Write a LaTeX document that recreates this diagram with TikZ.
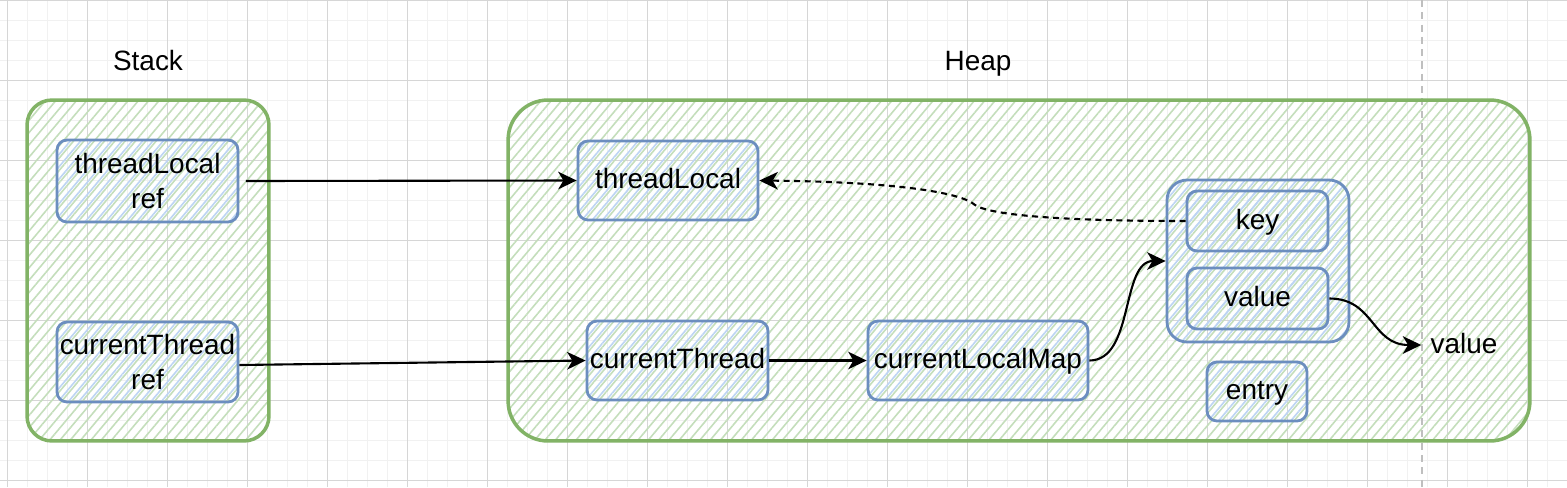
\documentclass[tikz,border=0pt]{standalone}
\usepackage{fontspec}
\setmainfont{Liberation Sans}
\usetikzlibrary{arrows.meta,patterns.meta}
\definecolor{gmaj}{HTML}{D6D6D6}
\definecolor{gmin}{HTML}{F1F1F1}
\definecolor{gstroke}{HTML}{82B366}
\definecolor{gfill}{HTML}{C4DEBB}
\definecolor{bstroke}{HTML}{6C8EBF}
\definecolor{bfill}{HTML}{BDD5F3}
\begin{document}
\begin{tikzpicture}[x=0.02cm,y=-0.02cm,
  txt/.style={font=\fontsize{15.9}{20}\selectfont, text=black, align=center},
  oneline/.style={text height=10.4pt, text depth=1pt},
  container/.style={draw=gstroke, line width=2pt, inner sep=0pt,
    pattern={Lines[angle=50,distance=4.5pt,line width=0.9pt]}, pattern color=gfill},
  box/.style={txt, draw=bstroke, line width=1.6pt, rounded corners=0.2cm, inner sep=0pt,
    pattern={Lines[angle=50,distance=4.5pt,yshift=2.2pt,line width=0.9pt]}, pattern color=bfill},
  conn/.style={line width=1.2pt, -{Stealth[length=10.5pt,width=10pt,inset=3pt]}},
]
\useasboundingbox (0,0) rectangle (1567,487);
\fill[white] (0,0) rectangle (1567,487);
% grid
\foreach \i in {0,...,78} { \draw[gmin, line width=0.8pt] ({7.3+20*\i},0) -- ++(0,487); }
\foreach \i in {0,...,24} { \draw[gmin, line width=0.8pt] (0,{0.7+20*\i}) -- ++(1567,0); }
\foreach \i in {0,...,19} { \draw[gmaj, line width=0.6pt] ({7.3+80*\i},0) -- ++(0,487); }
\foreach \i in {0,...,6} { \draw[gmaj, line width=0.6pt] (0,{0.7+80*\i}) -- ++(1567,0); }
% page break line
\draw[black!25, line width=1.1pt, dash pattern=on 4pt off 3pt] (1422,0) -- (1422,487);

% containers
\node[container, rounded corners=0.5cm, minimum width=4.84cm, minimum height=6.82cm] (stack) at (148,270.5) {};
\node[container, rounded corners=0.8cm, minimum width=20.44cm, minimum height=6.82cm] (heap) at (1019,270.5) {};
\node[txt, anchor=base] (stacklbl) at (148,70) {Stack};
\node[txt, anchor=base] (heaplbl) at (978,70) {Heap};

% stack boxes
\node[box, minimum width=3.62cm, minimum height=1.64cm] (tlref) at (147.5,181) {threadLocal\\ref};
\node[box, minimum width=3.62cm, minimum height=1.6cm] (ctref) at (147.5,362) {currentThread\\ref};

% heap boxes
\node[box, oneline, minimum width=3.6cm, minimum height=1.58cm] (tl) at (668,180.5) {threadLocal};
\node[box, oneline, minimum width=3.62cm, minimum height=1.58cm] (ct) at (677.5,360.5) {currentThread};
\node[box, oneline, minimum width=4.4cm, minimum height=1.58cm] (clm) at (978,360.5) {currentLocalMap};
\node[box, rounded corners=0.4cm, minimum width=3.64cm, minimum height=3.24cm] (pair) at (1258,261) {};
\node[box, oneline, minimum width=2.82cm, minimum height=1.2cm] (key) at (1257.5,221) {key};
\node[box, oneline, minimum width=2.82cm, minimum height=1.22cm] (val) at (1257.5,298.5) {value};
\node[box, oneline, minimum width=2.0cm, minimum height=1.18cm] (entry) at (1257,391.5) {entry};
\node[txt, oneline, inner xsep=0.18cm, inner ysep=0pt] (valtxt) at (1464,345) {value};

% connectors
\draw[conn] ([xshift=0.14cm]tlref.east) -- (tl.west);
\draw[conn] ([yshift=-0.06cm]ctref.east) -- (ct.west);
\draw[conn] (ct.east) -- (clm.west);
\draw[conn] (clm.east) .. controls +(45,0) and +(-45,0) .. (pair.west);
\draw[conn] (val.east) .. controls +(45,0) and +(-50,0) .. (valtxt.west);
\draw[conn, dash pattern=on 3.4pt off 2.6pt] (key.west) .. controls (1060,221) and (990,215) .. (975,205) .. controls (962,193) and (900,182) .. (tl.east);
\end{tikzpicture}
\end{document}
